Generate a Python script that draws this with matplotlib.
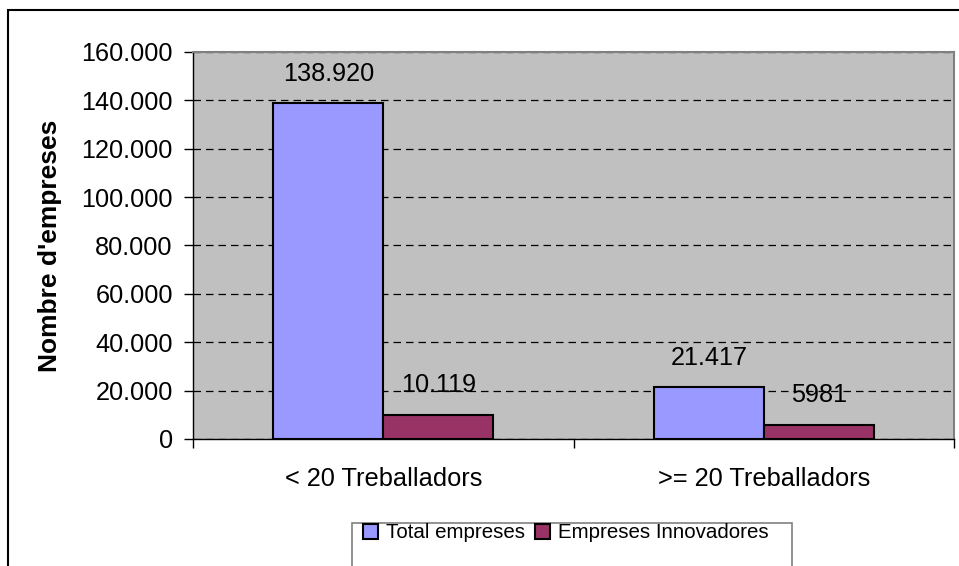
import matplotlib
matplotlib.use("Agg")
import matplotlib.pyplot as plt
import matplotlib.patches as mpatches
from matplotlib.ticker import FuncFormatter, MultipleLocator
import numpy as np

categories = ["< 20 Treballadors", ">= 20 Treballadors"]
series_names = ["Total empreses", "Empreses Innovadores"]
total_empreses = [138920, 21417]
empreses_innovadores = [10119, 5981]

plt.rcParams["font.family"] = ["Liberation Sans", "DejaVu Sans"]


def fmt_num(v, pos=None):
    v = int(round(v))
    if v >= 10000:
        return f"{v:,}".replace(",", ".")
    return str(v)


W, H = 959, 566
fig = plt.figure(figsize=(W / 100, H / 100), dpi=100)
fig.patch.set_facecolor("white")

left, right, top, bottom = 193, 954, 52, 439
ax = fig.add_axes([left / W, 1 - bottom / H, (right - left) / W, (bottom - top) / H])
ax.set_facecolor("#C0C0C0")

x = np.arange(len(categories))
width = 0.289
bars1 = ax.bar(x - width / 2, total_empreses, width, color="#9999FF",
               edgecolor="black", linewidth=1.5, label=series_names[0], zorder=3)
bars2 = ax.bar(x + width / 2, empreses_innovadores, width, color="#993366",
               edgecolor="black", linewidth=1.5, label=series_names[1], zorder=3)

for bars, vals in [(bars1, total_empreses), (bars2, empreses_innovadores)]:
    for b, v in zip(bars, vals):
        ax.annotate(fmt_num(v), (b.get_x() + b.get_width() / 2, v),
                    xytext=(0, 21), textcoords="offset points",
                    ha="center", va="center", fontsize=18.2, color="black", zorder=5)

ax.set_ylim(0, 160000)
ax.set_xlim(-0.5, len(categories) - 0.5)
ax.yaxis.set_major_locator(MultipleLocator(20000))
ax.yaxis.set_major_formatter(FuncFormatter(fmt_num))
ax.grid(axis="y", color="black", linestyle=(0, (6, 4)), linewidth=0.9, zorder=1)
ax.set_axisbelow(True)

# category boundaries as major ticks, labels on minor ticks
ax.set_xticks(np.arange(len(categories) + 1) - 0.5)
ax.set_xticklabels([""] * (len(categories) + 1))
ax.set_xticks(x, minor=True)
ax.set_xticklabels(categories, minor=True)
ax.tick_params(axis="x", which="major", direction="out", length=6.5, width=1)
ax.tick_params(axis="x", which="minor", length=0, pad=20.5, labelsize=18.3)
ax.tick_params(axis="y", direction="out", length=6.5, width=1, pad=8, labelsize=18.2)

for side in ["top", "right"]:
    ax.spines[side].set_color("#808080")
    ax.spines[side].set_linewidth(1.5)
for side in ["left", "bottom"]:
    ax.spines[side].set_color("black")
    ax.spines[side].set_linewidth(1)

fig.text(50 / W, 1 - 246 / H, "Nombre d'empreses", rotation=90, ha="center",
         va="center", fontsize=19, fontweight="bold")

# legend
fig.legend(handles=[bars1, bars2], labels=series_names, loc="center left",
           bbox_to_anchor=(353 / W, 1 - 533 / H), ncol=2, frameon=False,
           fontsize=14.8, handlelength=0.7, handleheight=0.7,
           handletextpad=0.4, columnspacing=0.5, borderpad=0)
fig.add_artist(mpatches.Rectangle((352 / W, -0.1), (792 - 352) / W, (566 - 523) / H + 0.1,
                                  transform=fig.transFigure, fill=False,
                                  edgecolor="#808080", linewidth=1.2))

# outer chart border
fig.add_artist(mpatches.Rectangle((8 / W, -0.1), 1.2, (566 - 10) / H + 0.1,
                                  transform=fig.transFigure, fill=False,
                                  edgecolor="black", linewidth=1.5))

fig.savefig("out.png", dpi=100)
